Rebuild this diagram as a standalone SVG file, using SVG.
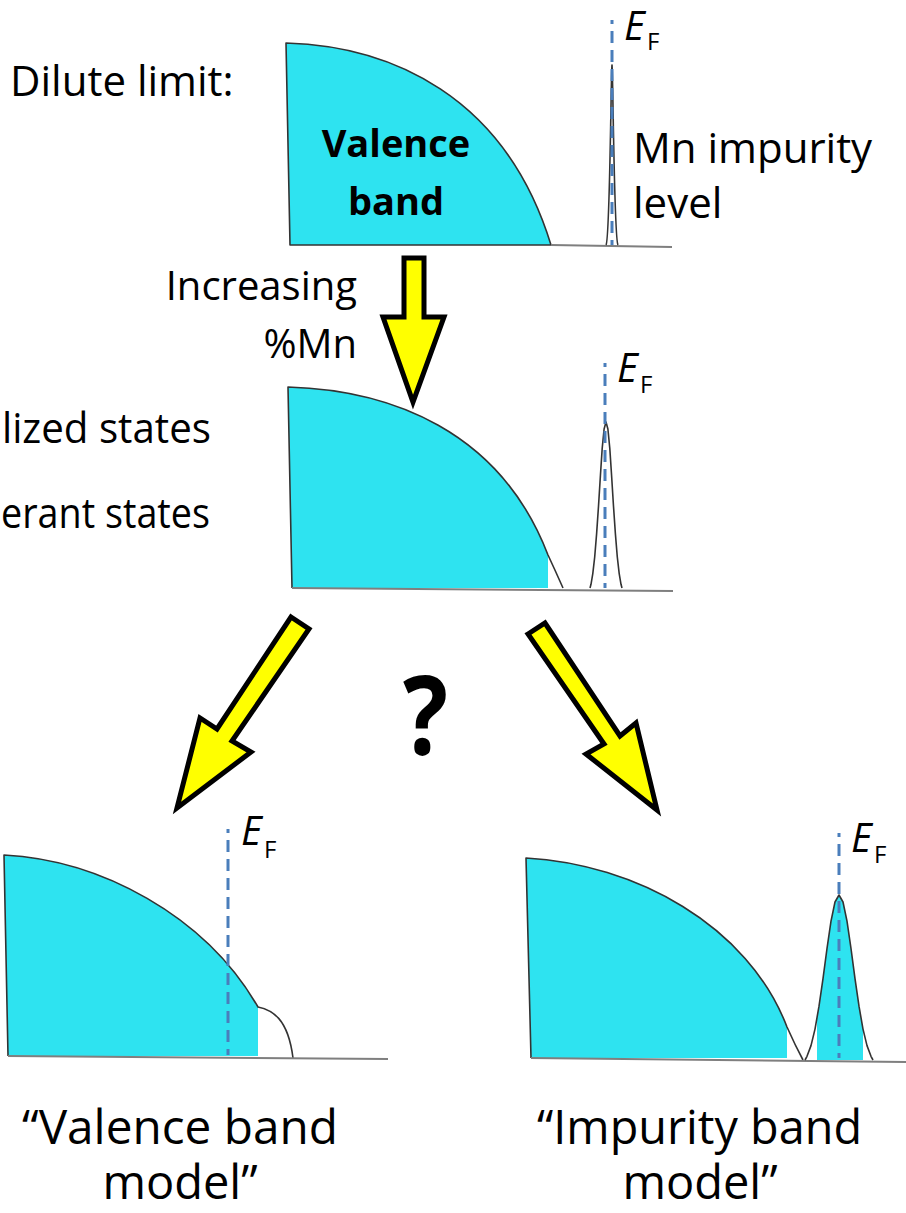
<svg xmlns="http://www.w3.org/2000/svg" width="906" height="1213" viewBox="0 0 906 1213">
<style>
.t{font-family:"Open Sans","Liberation Sans",sans-serif;font-size:42px;fill:#000}
.b{font-weight:bold}
.s38{font-size:38px}
.s40{font-size:40px}
.s47{font-size:47px}
.s110{font-size:110px}
.fill{fill:#2EE3F0;stroke:none}
.band{fill:#2EE3F0;stroke:#333;stroke-width:1.6;stroke-linejoin:round}
.out{fill:none;stroke:#333;stroke-width:1.6;stroke-linejoin:round}
.base{fill:none;stroke:#7f7f7f;stroke-width:2}
.ef{fill:none;stroke:#4A7EBB;stroke-width:3;stroke-dasharray:12 7;stroke-dashoffset:8}
.arrow{fill:#FFFF00;stroke:#000;stroke-width:5;stroke-linejoin:miter}
.e{font-family:"Open Sans","Liberation Sans",sans-serif;font-style:italic;font-size:40px}
.f{font-family:"Open Sans","Liberation Sans",sans-serif;font-size:24px}
</style>
<rect width="906" height="1213" fill="#fff"/>

<g id="label-dilute"><text class="t" x="10" y="96">Dilute limit:</text></g>

<g id="panel-dilute">
  <path class="band" d="M290,245 L286,43 C390,46 505,95 551,245 Z"/>
  <path class="base" d="M551,245 L672,247"/>
  <path class="out" d="M606,245 C610,240 611,70 612,65 C613,70 614,240 618,245"/>
  <path class="ef" d="M612,20 L612,245"/>
  <text class="e" x="624" y="40">E</text><text class="f" x="647" y="50">F</text>
  <text class="t b s38" x="396" y="157" text-anchor="middle">Valence</text>
  <text class="t b s38" x="396" y="215" text-anchor="middle">band</text>
  <text class="t" x="633" y="163">Mn impurity</text>
  <text class="t" x="633" y="218">level</text>
</g>

<g id="label-increasing">
  <text class="t s40" x="357" y="300" text-anchor="end">Increasing</text>
  <text class="t s40" x="357" y="358" text-anchor="end">%Mn</text>
</g>

<g id="label-states">
  <text class="t" x="2" y="443" textLength="209" lengthAdjust="spacingAndGlyphs">lized states</text>
  <text class="t" x="1" y="528" textLength="209" lengthAdjust="spacingAndGlyphs">erant states</text>
</g>

<g id="panel-increasing">
  <path class="fill" d="M288,387 C390,390 500,430 548,555 L548,588 L292,588 Z"/>
  <path class="out" d="M292,588 L288,387 C390,390 500,430 548,555 Q555,570 563,588"/>
  <path class="base" d="M292,588 L673,591"/>
  <polyline class="out" points="590,588 591,584.3 592.8,573.6 594.7,557 596.6,533.9 598.5,506.2 600.4,475.8 602.2,448.4 604.1,429 606,422 607.9,429 609.8,448.4 611.6,475.8 613.5,506.2 615.4,533.9 617.3,557 619.2,573.6 621,584.3 622,588"/>
  <path class="ef" d="M605,363 L605,588"/>
  <text class="e" x="617" y="382">E</text><text class="f" x="640" y="393">F</text>
</g>

<g id="question"><text class="t b s110" x="403" y="755" textLength="45" lengthAdjust="spacingAndGlyphs">?</text></g>

<g id="panel-valence-model">
  <path class="fill" d="M4,855 C100,860 205,915 258,1007 L258,1056 L8,1056 Z"/>
  <path class="out" d="M8,1056 L4,855 C100,860 205,915 258,1007 C272,1010 288,1018 293,1058"/>
  <path class="base" d="M8,1056 L388,1059"/>
  <path class="ef" d="M228,829 L228,1055"/>
  <text class="e" x="241" y="845">E</text><text class="f" x="264" y="858">F</text>
  <text class="t s47" x="22" y="1144" textLength="316" lengthAdjust="spacingAndGlyphs">“Valence band</text>
  <text class="t s47" x="180" y="1199" text-anchor="middle">model”</text>
</g>

<g id="panel-impurity-model">
  <path class="fill" d="M526,858 C635,864 748,925 787,1027 L787,1058 L531,1058 Z"/>
  <polygon class="fill" points="817,1060 817,1017.7 819,1006.2 823,978.7 827,948.5 831,921.2 835,902 839,895 843,902 847,921.2 851,948.5 855,978.7 859,1006.2 863,1029.1 863,1060"/>
  <path class="out" d="M531,1058 L526,858 C635,864 748,925 787,1027 Q795,1045 803,1060"/>
  <path class="base" d="M531,1058 L906,1062"/>
  <polyline class="out" points="805,1060 807,1056.3 811,1045.6 815,1029.1 819,1006.2 823,978.7 827,948.5 831,921.2 835,902 839,895 843,902 847,921.2 851,948.5 855,978.7 859,1006.2 863,1029.1 867,1045.6 871,1056.3 873,1060"/>
  <path class="ef" d="M839,833 L839,1058"/>
  <text class="e" x="851" y="852">E</text><text class="f" x="874" y="863">F</text>
  <text class="t s47" x="537" y="1144" textLength="325" lengthAdjust="spacingAndGlyphs">“Impurity band</text>
  <text class="t s47" x="700" y="1199" text-anchor="middle">model”</text>
</g>

<g id="connectors">
  <polygon class="arrow" points="404,258 424,258 424,317 444,317 413,402 383,317 404,317"/>
  <polygon class="arrow" points="291,617 309,629 232,741 251,752 177,808 200,718 217,729"/>
  <polygon class="arrow" points="528,634 545,623 620,736 636,723 657,810 586,754 604,744"/>
</g>
</svg>
